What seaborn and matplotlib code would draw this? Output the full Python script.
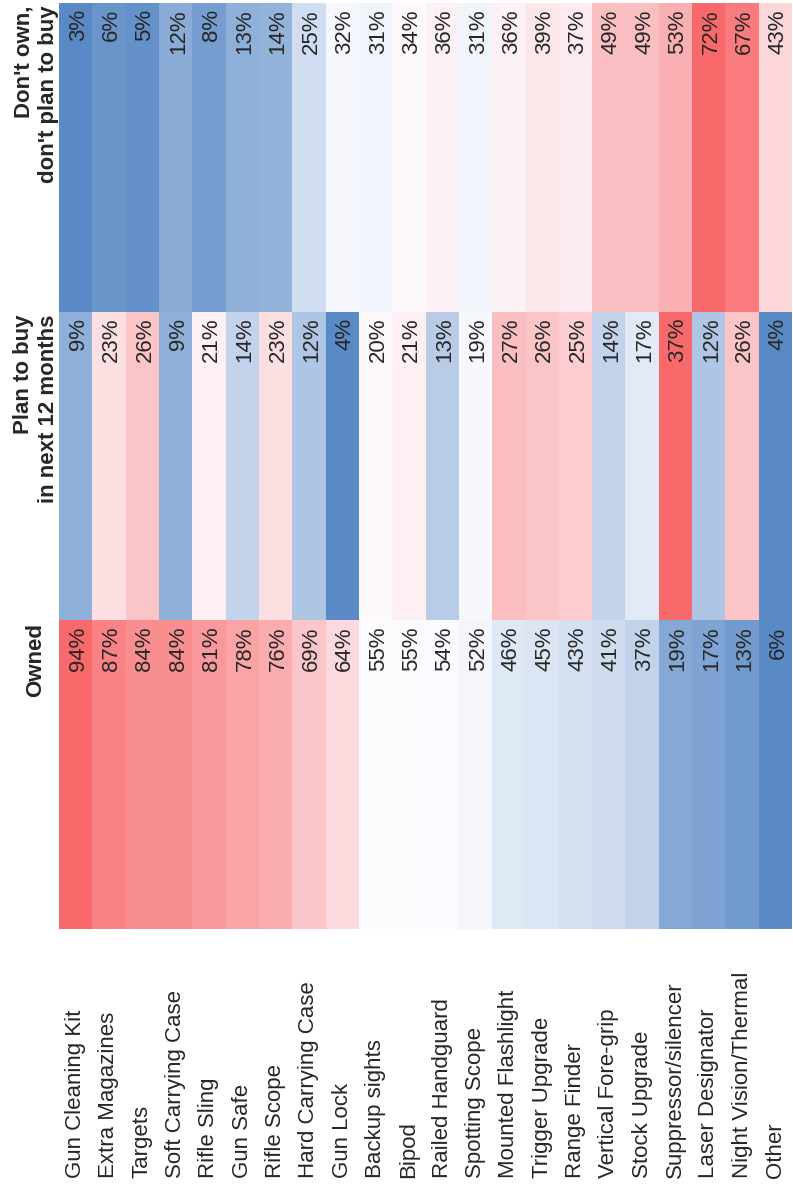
import numpy as np
import pandas as pd
import matplotlib
matplotlib.use('Agg')
import matplotlib.pyplot as plt
import matplotlib.transforms as mtransforms
from matplotlib.colors import LinearSegmentedColormap
import seaborn as sns

# ── Data ──────────────────────────────────────────────────────────────
ITEMS = ['Gun Cleaning Kit', 'Extra Magazines', 'Targets', 'Soft Carrying Case',
         'Rifle Sling', 'Gun Safe', 'Rifle Scope', 'Hard Carrying Case', 'Gun Lock',
         'Backup sights', 'Bipod', 'Railed Handguard', 'Spotting Scope',
         'Mounted Flashlight', 'Trigger Upgrade', 'Range Finder', 'Vertical Fore-grip',
         'Stock Upgrade', 'Suppressor/silencer', 'Laser Designator',
         'Night Vision/Thermal', 'Other']
OWNED    = [94, 87, 84, 84, 81, 78, 76, 69, 64, 55, 55, 54, 52, 46, 45, 43, 41, 37, 19, 17, 13, 6]
PLAN     = [9, 23, 26, 9, 21, 14, 23, 12, 4, 20, 21, 13, 19, 27, 26, 25, 14, 17, 37, 12, 26, 4]
DONT_OWN = [3, 6, 5, 12, 8, 13, 14, 25, 32, 31, 34, 36, 31, 36, 39, 37, 49, 49, 53, 72, 67, 43]

# bands from top to bottom of the (rotated) picture
HEADERS = ["Don't own,\ndon't plan to buy", 'Plan to buy\nin next 12 months', 'Owned']

plt.rcParams['font.family'] = ['Liberation Sans', 'DejaVu Sans']
TXT = '#262626'
FS = 16

values = pd.DataFrame([DONT_OWN, PLAN, OWNED], index=HEADERS, columns=ITEMS)


def scale_row(row):
    # Excel-style 3-colour scale: min -> 0, median -> 0.5, max -> 1
    lo, mid, hi = row.min(), row.median(), row.max()
    return row.apply(lambda v: 0.5 * (v - lo) / (mid - lo) if v <= mid
                     else 0.5 + 0.5 * (v - mid) / (hi - mid))


scaled = values.apply(scale_row, axis=1)
cmap = LinearSegmentedColormap.from_list('excel_bwr', ['#5A8AC6', '#FCFCFF', '#F8696B'])

fig = plt.figure(figsize=(7.93, 11.96), dpi=100)
ax = fig.add_axes([59 / 793, (1196 - 929) / 1196, 733 / 793, 926 / 1196])
sns.heatmap(scaled, cmap=cmap, vmin=0, vmax=1, cbar=False, ax=ax, linewidths=0)
ax.set_xticks([])
ax.set_yticks([])
ax.set_xlabel('')
ax.set_ylabel('')

# percentages, top of each band
for r, head in enumerate(HEADERS):
    for i, item in enumerate(ITEMS):
        ax.text(i + 0.58, r + 0.02, f'{values.loc[head, item]}%', rotation=90,
                ha='center', va='top', fontsize=FS, color=TXT)

# band headers on the left
head_tr = mtransforms.blended_transform_factory(fig.transFigure, ax.transData)
for r, head in enumerate(HEADERS):
    ax.text(36 / 793, r + 0.008, head, transform=head_tr, rotation=90,
            ha='center', va='top', multialignment='right',
            fontsize=FS, fontweight='bold', color=TXT)

# item labels at the bottom
lab_tr = mtransforms.blended_transform_factory(ax.transData, fig.transFigure)
for i, item in enumerate(ITEMS):
    ax.text(i + 0.5, 18 / 1196, item, transform=lab_tr, rotation=90,
            ha='center', va='bottom', fontsize=FS, color=TXT)

fig.savefig('out.png', dpi=100)
